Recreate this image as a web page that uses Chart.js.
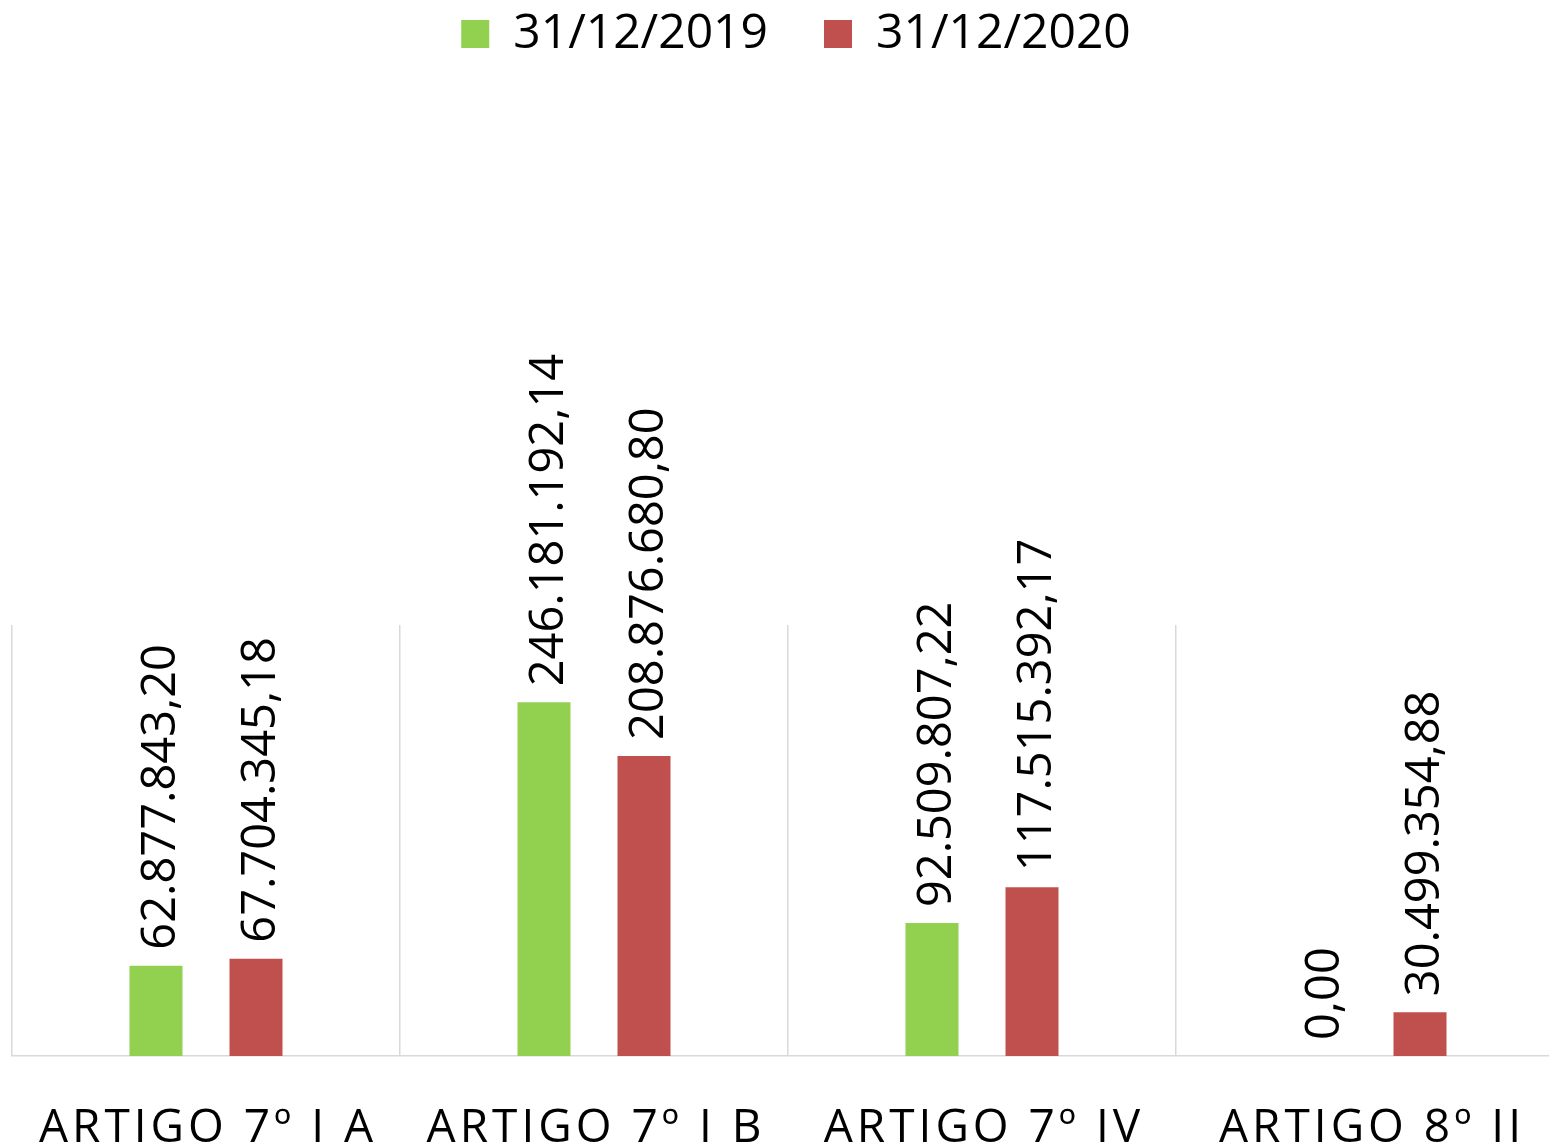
<!DOCTYPE html>
<html>
<head>
<meta charset="utf-8">
<script src="https://cdn.jsdelivr.net/npm/chart.js@4.4.1/dist/chart.umd.min.js"></script>
<style>
  html, body { margin: 0; padding: 0; background: #fff; overflow: hidden; }
  /* the plot runs a little past the right edge of the page */
  #wrap { width: 1564px; height: 1148px; }
</style>
</head>
<body>
<div id="wrap"><canvas id="artigosChart"></canvas></div>
<script>
const categorias = ['ARTIGO 7º I A', 'ARTIGO 7º I B', 'ARTIGO 7º IV', 'ARTIGO 8º II'];
const datas = ['31/12/2019', '31/12/2020'];
const saldos2019 = [62877843.20, 246181192.14, 92509807.22, 0.00];
const saldos2020 = [67704345.18, 208876680.80, 117515392.17, 30499354.88];
const eixoMax = 300000000;

// 1234567.8 -> "1.234.567,80"
function formatBRL(v) {
    const [inteiro, dec] = v.toFixed(2).split('.');
    return inteiro.replace(/\B(?=(\d{3})+(?!\d))/g, '.') + ',' + dec;
}

// legend sits at the top, the plot starts much lower
const legendGap = {
    id: 'legendGap',
    beforeInit(chart) {
        const fit = chart.legend.fit;
        chart.legend.fit = function () {
            fit.call(this);
            this.height = 625;
        };
    },
    afterLayout(chart) {
        chart.legend.top -= 46;
        chart.legend.left += 16;
    }
};

// vertical value labels above each bar
const rotuloValores = {
    id: 'rotuloValores',
    afterDatasetsDraw(chart) {
        const { ctx } = chart;
        ctx.save();
        ctx.font = '47px "Open Sans"';
        ctx.fillStyle = '#000';
        ctx.textAlign = 'left';
        ctx.textBaseline = 'alphabetic';
        chart.data.datasets.forEach((ds, i) => {
            chart.getDatasetMeta(i).data.forEach((bar, j) => {
                ctx.save();
                ctx.translate(bar.x, bar.y - 16);
                ctx.rotate(-Math.PI / 2);
                ctx.fillText(formatBRL(ds.data[j]), 0, 19);
                ctx.restore();
            });
        });
        ctx.restore();
    }
};

// category names under the axis, with wider letter spacing
const rotuloEixo = {
    id: 'rotuloEixo',
    afterDraw(chart) {
        const { ctx } = chart;
        const x = chart.scales.x;
        ctx.save();
        ctx.font = '46px "Open Sans"';
        ctx.letterSpacing = '4px';
        ctx.fillStyle = '#000';
        ctx.textAlign = 'center';
        ctx.textBaseline = 'alphabetic';
        chart.data.labels.forEach((lbl, i) => {
            ctx.fillText(lbl, x.getPixelForTick(i) + 2, chart.chartArea.bottom + 86);
        });
        ctx.restore();
    }
};

new Chart(document.getElementById('artigosChart'), {
    type: 'bar',
    data: {
        labels: categorias,
        datasets: [
            {
                label: datas[0],
                data: saldos2019,
                backgroundColor: '#92D050',
                borderWidth: 0
            },
            {
                label: datas[1],
                data: saldos2020,
                backgroundColor: '#C0504D',
                borderWidth: 0
            }
        ]
    },
    options: {
        responsive: true,
        maintainAspectRatio: false,
        animation: false,
        categoryPercentage: 0.5155,
        barPercentage: 0.53,
        layout: {
            padding: { left: 12, right: 0, top: 0, bottom: 0 }
        },
        plugins: {
            legend: {
                position: 'top',
                labels: {
                    font: { family: 'Open Sans', size: 48 },
                    color: '#000',
                    boxWidth: 28,
                    boxHeight: 28,
                    padding: 56
                }
            },
            tooltip: { enabled: false }
        },
        scales: {
            x: {
                grid: { color: '#D9D9D9', lineWidth: 1.5, drawTicks: false, offset: true },
                border: { color: '#D9D9D9', width: 1.5 },
                ticks: { display: false },
                afterFit(scale) {
                    scale.height = 92;
                }
            },
            y: {
                display: false,
                min: 0,
                max: eixoMax
            }
        }
    },
    plugins: [legendGap, rotuloValores, rotuloEixo]
});
</script>
</body>
</html>
